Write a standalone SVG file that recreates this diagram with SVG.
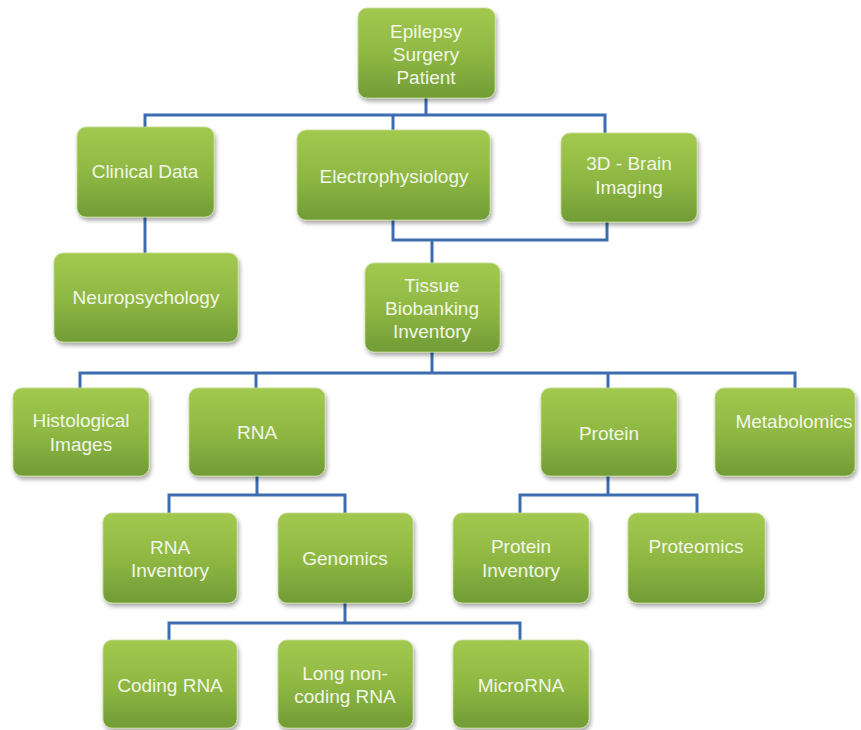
<svg xmlns="http://www.w3.org/2000/svg" width="861" height="730" viewBox="0 0 861 730">
<defs>
<linearGradient id="g" x1="0" y1="0" x2="0" y2="1">
<stop offset="0" stop-color="#a2c94f"/>
<stop offset="0.5" stop-color="#8fb843"/>
<stop offset="1" stop-color="#719c36"/>
</linearGradient>
<filter id="sh" x="-10%" y="-10%" width="130%" height="130%">
<feDropShadow dx="1.5" dy="3" stdDeviation="2" flood-color="#000" flood-opacity="0.35"/>
</filter>
</defs>
<style>
.b{fill:url(#g);stroke:#c5dc93;stroke-width:0.8;filter:url(#sh)}
.t{font-family:"Liberation Sans",Arial,sans-serif;font-size:19px;fill:#f1f7e6;text-anchor:middle}
.c{fill:none;stroke:#3d6db0;stroke-width:3}
</style>
<rect width="861" height="730" fill="#fff"/>
<g id="connectors">
<path class="c" d="M426 98V115M145 127V115H605V133M393 115V130"/>
<path class="c" d="M145 216V253"/>
<path class="c" d="M393 220V240H607V222M432 240V263"/>
<path class="c" d="M432 352V373M80 388V373H795V388M256 373V388M608 373V388"/>
<path class="c" d="M257 476V495M169 513V495H345V513"/>
<path class="c" d="M608 476V495M520 513V495H697V513"/>
<path class="c" d="M345 603V623M169 640V623H520V640"/>
</g>
<g id="n1"><rect class="b" x="358" y="8" width="137" height="90" rx="9"/>
<text class="t" x="426" y="38">Epilepsy</text><text class="t" x="426" y="61">Surgery</text><text class="t" x="426" y="84">Patient</text></g>
<g id="n2"><rect class="b" x="77" y="127" width="137" height="90" rx="9"/>
<text class="t" x="145" y="178">Clinical Data</text></g>
<g id="n3"><rect class="b" x="297" y="130" width="193" height="90" rx="9"/>
<text class="t" x="394" y="183">Electrophysiology</text></g>
<g id="n4"><rect class="b" x="561" y="133" width="136" height="89" rx="9"/>
<text class="t" x="629" y="170">3D - Brain</text><text class="t" x="629" y="194">Imaging</text></g>
<g id="n5"><rect class="b" x="54" y="253" width="184" height="89" rx="9"/>
<text class="t" x="146" y="304">Neuropsychology</text></g>
<g id="n6"><rect class="b" x="365" y="263" width="135" height="89" rx="9"/>
<text class="t" x="432" y="292">Tissue</text><text class="t" x="432" y="315">Biobanking</text><text class="t" x="432" y="338">Inventory</text></g>
<g id="n7"><rect class="b" x="13" y="388" width="136" height="88" rx="9"/>
<text class="t" x="81" y="427">Histological</text><text class="t" x="81" y="451">Images</text></g>
<g id="n8"><rect class="b" x="189" y="388" width="136" height="88" rx="9"/>
<text class="t" x="257" y="439">RNA</text></g>
<g id="n9"><rect class="b" x="541" y="388" width="136" height="88" rx="9"/>
<text class="t" x="609" y="440">Protein</text></g>
<g id="n10"><rect class="b" x="715" y="388" width="140" height="88" rx="9"/>
<text class="t" x="794" y="428">Metabolomics</text></g>
<g id="n11"><rect class="b" x="103" y="513" width="134" height="90" rx="9"/>
<text class="t" x="170" y="554">RNA</text><text class="t" x="170" y="577">Inventory</text></g>
<g id="n12"><rect class="b" x="278" y="513" width="135" height="90" rx="9"/>
<text class="t" x="345" y="565">Genomics</text></g>
<g id="n13"><rect class="b" x="453" y="513" width="136" height="90" rx="9"/>
<text class="t" x="521" y="553">Protein</text><text class="t" x="521" y="577">Inventory</text></g>
<g id="n14"><rect class="b" x="628" y="513" width="137" height="90" rx="9"/>
<text class="t" x="696" y="553">Proteomics</text></g>
<g id="n15"><rect class="b" x="103" y="640" width="134" height="88" rx="9"/>
<text class="t" x="170" y="692">Coding RNA</text></g>
<g id="n16"><rect class="b" x="278" y="640" width="135" height="88" rx="9"/>
<text class="t" x="345" y="680">Long non-</text><text class="t" x="345" y="703">coding RNA</text></g>
<g id="n17"><rect class="b" x="453" y="640" width="136" height="88" rx="9"/>
<text class="t" x="521" y="692">MicroRNA</text></g>
</svg>
